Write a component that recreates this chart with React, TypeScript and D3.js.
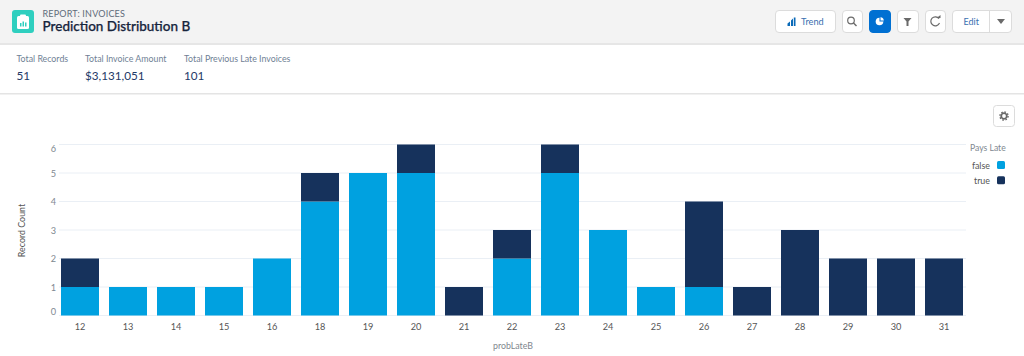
import React from "react";
import * as d3 from "d3";

const categories = ["12","13","14","15","16","18","19","20","21","22","23","24","25","26","27","28","29","30","31"];
const falseCounts = [1,1,1,1,2,4,5,5,0,2,5,3,1,1,0,0,0,0,0];
const trueCounts = [1,0,0,0,0,1,0,1,1,1,1,0,0,3,1,3,2,2,2];
const yTicks = [0,1,2,3,4,5,6];
const seriesKeys = ["false","true"];
const seriesColors = ["#00a1e0","#16325c"];
const summaryLabels = ["Total Records","Total Invoice Amount","Total Previous Late Invoices"];
const summaryValues = ["51","$3,131,051","101"];
const FONT = "Lato, 'Noto Sans', sans-serif";

const x = d3.scaleBand<string>().domain(categories).range([56, 968]).paddingInner(10 / 48).paddingOuter(5 / 48);
const y = d3.scaleLinear().domain([0, 6]).range([315.5, 144.5]);
const rows = categories.map((c, i) => ({ c, false: falseCounts[i], true: trueCounts[i] }));
const stacks = d3.stack<any>().keys(seriesKeys)(rows);

function Btn({ x: bx, w, fill = "#fff" }: { x: number; w: number; fill?: string }) {
  return <rect x={bx + 0.5} y={10.5} width={w} height={22} rx={3.5} fill={fill} stroke={fill === "#fff" ? "#dcdcdc" : fill} />;
}

export default function App() {
  return (
    <svg width={1024} height={356} viewBox="0 0 1024 356" style={{ position: "fixed", left: 0, top: 0, background: "#fff", fontFamily: FONT }}>
      <rect x={0} y={0} width={1024} height={44} fill="#f3f3f3" />
      <rect x={0} y={43} width={1024} height={2} fill="#e6e6e6" />
      <rect x={0} y={93} width={1024} height={1.5} fill="#e4e4e4" />

      <rect x={12} y={10} width={22} height={23} rx={3} fill="#2fcfbf" />
      <rect x={17} y={16} width={12} height={13} rx={1.5} fill="#fff" />
      <rect x={20} y={14.5} width={6} height={3} rx={1} fill="#fff" />
      <rect x={20} y={23} width={1.5} height={3.5} fill="#2fcfbf" />
      <rect x={22.5} y={21.5} width={1.5} height={5} fill="#2fcfbf" />
      <rect x={25} y={22.5} width={1.5} height={4} fill="#2fcfbf" />
      <text x={42.5} y={17.3} fontSize={9} fill="#5f6b7a" letterSpacing={0.2}>REPORT: INVOICES</text>
      <text x={42.5} y={31} fontSize={13.5} fontWeight={500} fill="#16243c" stroke="#16243c" strokeWidth={0.25}>Prediction Distribution B</text>

      <Btn x={775} w={60} />
      <path d="M787.5 26 v-2.5 l2.5 -2 v4.5z M791 26 v-5.5 l2 -2 v7.5z M793.8 26 v-8.5 h1.7 v8.5z" fill="#0a6ab8" />
      <text x={801} y={25} fontSize={9.2} fill="#3a6fb0">Trend</text>
      <Btn x={842} w={20} />
      <circle cx={851} cy={20.5} r={3.3} fill="none" stroke="#6a6a6a" strokeWidth={1.2} />
      <path d="M853.5 23 L856.5 26" stroke="#6a6a6a" strokeWidth={1.4} />
      <Btn x={869} w={21} fill="#0070d2" />
      <circle cx={879.5} cy={21.5} r={3.8} fill="#fff" />
      <path d="M879.5 21.5 V17.5 H883.5 V21.5 Z" fill="#0070d2" />
      <path d="M880.5 20.5 V17.2 A3.5 3.5 0 0 1 883.8 20.5 Z" fill="#fff" />
      <Btn x={897} w={21} />
      <path d="M903.5 18 h8 l-3 3.5 v4.5 h-2 v-4.5 z" fill="#6a6a6a" />
      <Btn x={925} w={20} />
      <path d="M939 18.7 A4.5 4.5 0 1 0 939.5 23" fill="none" stroke="#6a6a6a" strokeWidth={1.2} />
      <path d="M936.5 18 h4 v-3 z" fill="#6a6a6a" />
      <Btn x={952} w={59} />
      <path d="M989.5 11 V32.5" stroke="#dcdcdc" />
      <text x={963.5} y={25} fontSize={9} fill="#3a6fb0">Edit</text>
      <path d="M997 19 h8 l-4 5 z" fill="#6a6a6a" />

      {summaryLabels.map((t, i) => (
        <g key={t}>
          <text x={[16.5, 85, 184][i]} y={62} fontSize={8.8} fill="#6f7f95">{t}</text>
          <text x={[16.5, 85, 184][i]} y={80} fontSize={11.7} fill="#1e3a68">{summaryValues[i]}</text>
        </g>
      ))}

      <rect x={993.5} y={105.5} width={21} height={21} rx={3} fill="#fff" stroke="#dcdcdc" />
      <g transform="translate(1004,116)">
        <circle r={2.8} fill="none" stroke="#6a6a6a" strokeWidth={1.8} />
        <circle r={4.1} fill="none" stroke="#6a6a6a" strokeWidth={1.4} strokeDasharray="1.6 1.6" />
      </g>

      {yTicks.map(t => (
        <g key={t}>
          <line x1={59} x2={966} y1={y(t)} y2={y(t)} stroke="#eaeff5" />
          <text x={56} y={y(t) - (t === 0 ? 1 : t === 6 ? -7 : -3.5)} fontSize={9.2} textAnchor="end" fill="#808890">{t}</text>
        </g>
      ))}

      {stacks.map((s, i) => s.map((d, j) => d[1] > d[0] ? (
        <rect key={`${i}-${j}`} x={x(categories[j])} y={y(d[1])} width={x.bandwidth()} height={y(d[0]) - y(d[1])} fill={seriesColors[i]} />
      ) : null))}

      {categories.map(c => (
        <text key={c} x={x(c)! + x.bandwidth() / 2} y={329.5} fontSize={9.2} textAnchor="middle" fill="#555">{c}</text>
      ))}
      <text x={513} y={349} fontSize={8.8} textAnchor="middle" fill="#80868e">probLateB</text>
      <text transform="translate(25,230.5) rotate(-90)" fontSize={8.9} textAnchor="middle" fill="#555">Record Count</text>

      <rect x={966} y={140} width={58} height={50} fill="#fff" />
      <text x={970} y={151} fontSize={8.6} fill="#808890">Pays Late</text>
      {seriesKeys.map((k, i) => (
        <g key={k}>
          <text x={990} y={168.5 + i * 15.3} fontSize={8.9} textAnchor="end" fill="#555">{k}</text>
          <rect x={997} y={161 + i * 15.3} width={8} height={8} rx={1.5} fill={seriesColors[i]} />
        </g>
      ))}
    </svg>
  );
}
